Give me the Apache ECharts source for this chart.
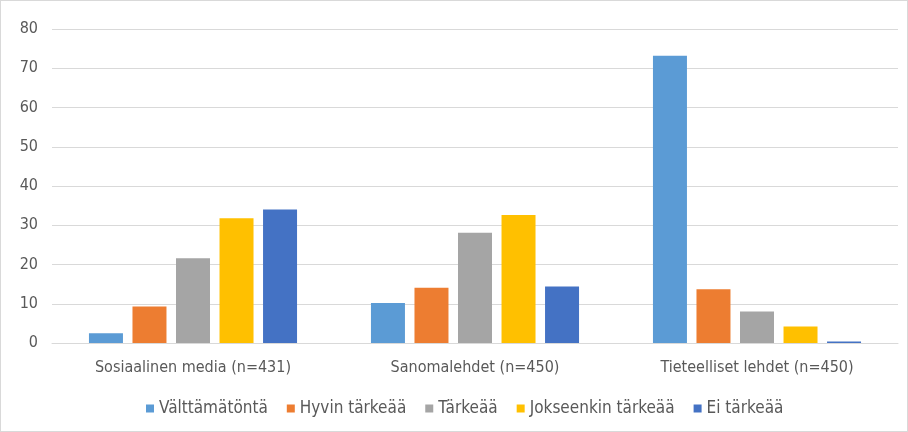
<!DOCTYPE html>
<html>
<head>
<meta charset="utf-8">
<script src="https://cdn.jsdelivr.net/npm/echarts@6/dist/echarts.min.js"></script>
<style>
  html, body { margin: 0; padding: 0; background: #fff; }
  #chart { width: 908px; height: 432px; box-sizing: border-box; border: 1px solid #d9d9d9; }
</style>
</head>
<body>
<div id="chart"></div>
<script>
const categories = ['Sosiaalinen media (n=431)', 'Sanomalehdet (n=450)', 'Tieteelliset lehdet (n=450)']
const seriesNames = ['Välttämätöntä', 'Hyvin tärkeää', 'Tärkeää', 'Jokseenkin tärkeää', 'Ei tärkeää']
const valttamatonta = [2.5, 10.2, 73.2]
const hyvinTarkeaa = [9.3, 14.1, 13.7]
const tarkeaa = [21.6, 28.1, 8.0]
const jokseenkin = [31.8, 32.6, 4.2]
const eiTarkeaa = [34.0, 14.4, 0.4]
const colors = ['#5B9BD5', '#ED7D31', '#A5A5A5', '#FFC000', '#4472C4']

const values = [valttamatonta, hyvinTarkeaa, tarkeaa, jokseenkin, eiTarkeaa]

const chart = echarts.init(document.getElementById('chart'))

const font = "'DejaVu Sans Condensed', 'Liberation Sans', sans-serif"

const option = {
  animation: false,
  color: colors,
  textStyle: { fontFamily: font, color: '#595959' },
  grid: {
    left: 51,
    right: 9,
    top: 28,
    bottom: 88,
    containLabel: false
  },
  legend: {
    bottom: 9,
    left: 140,
    itemWidth: 8,
    itemHeight: 8,
    itemGap: 19,
    icon: 'rect',
    textStyle: { fontFamily: font, fontSize: 17, color: '#595959' },
    data: seriesNames
  },
  xAxis: {
    type: 'category',
    data: categories,
    axisTick: { show: false },
    axisLine: { lineStyle: { color: '#d9d9d9' } },
    axisLabel: { fontFamily: font, fontSize: 16, color: '#595959', margin: 17 }
  },
  yAxis: {
    type: 'value',
    min: 0,
    max: 80,
    interval: 10,
    axisLine: { show: false },
    axisTick: { show: false },
    axisLabel: { fontFamily: font, fontSize: 16, color: '#595959', margin: 14 },
    splitLine: { lineStyle: { color: '#d9d9d9' } }
  },
  series: seriesNames.map((name, i) => ({
    name: name,
    type: 'bar',
    data: values[i],
    barWidth: 34,
    barGap: '28%'
  }))
}

chart.setOption(option)
</script>
</body>
</html>
